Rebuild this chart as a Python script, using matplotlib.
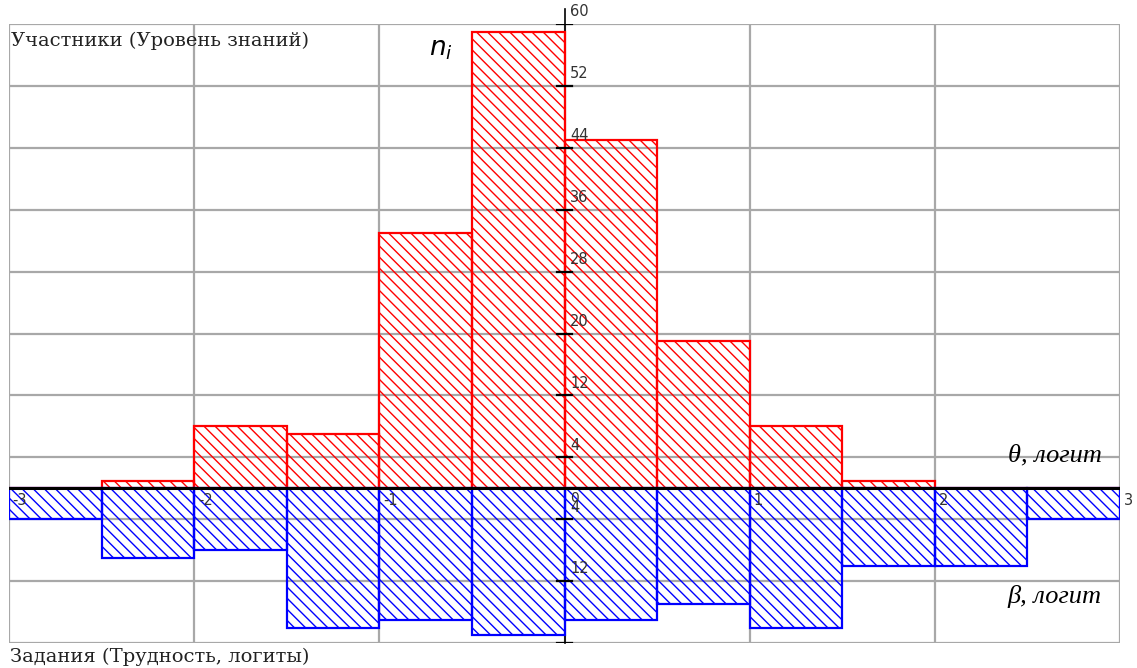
import matplotlib.pyplot as plt
import numpy as np

# bin left edges (logits), bin width 0.5
bins = [-3.0, -2.5, -2.0, -1.5, -1.0, -0.5, 0.0, 0.5, 1.0, 1.5, 2.0, 2.5]
# participants (knowledge level), counts n_i
persons = [0, 1, 8, 7, 33, 59, 45, 19, 8, 1, 0, 0]
# items (difficulty), drawn downward
items = [4, 9, 8, 18, 17, 19, 17, 15, 18, 10, 10, 4]

yticks = [60, 52, 44, 36, 28, 20, 12, 4, -4, -12, -20]
ylabels = ['60', '52', '44', '36', '28', '20', '12', '4', '4', '12', '']
xticks = [-3, -2, -1, 0, 1, 2, 3]

plt.rcParams['hatch.linewidth'] = 1.0
fig = plt.figure(figsize=(11.37, 6.68), dpi=100)
ax = fig.add_axes([9/1137, 25/668, 1111/1137, 619/668])
ax.set_xlim(-3, 3)
ax.set_ylim(-20, 60)

# grid
for yv in yticks:
    ax.axhline(yv, color='#a8a8a8', lw=1.6, zorder=0)
for xv in xticks:
    ax.axvline(xv, color='#a8a8a8', lw=1.6, zorder=0)

ax.bar(bins, persons, width=0.5, align='edge', facecolor='none',
       edgecolor='red', hatch='\\\\\\', lw=1.6, zorder=2)
ax.bar(bins, [-v for v in items], width=0.5, align='edge', facecolor='none',
       edgecolor='blue', hatch='\\\\\\', lw=1.6, zorder=2)

ax.axhline(0, color='black', lw=2.2, zorder=3)
ax.plot([0, 0], [-20, 62], color='black', lw=1.2, zorder=1, clip_on=False)

# y tick marks and labels on the vertical axis
for yv, lab in zip(yticks, ylabels):
    ax.plot([-0.04, 0.04], [yv, yv], color='black', lw=1.6, zorder=4)
    ax.text(0.03, yv + 0.6, lab, fontsize=10.5, color='#333333',
            family='DejaVu Sans', ha='left', va='bottom', zorder=5)
ax.text(0.03, -0.4, '0', fontsize=10, color='#333333', family='DejaVu Sans',
        ha='left', va='top', zorder=5)

for xv in xticks:
    if xv == 0:
        continue
    ax.text(xv + 0.02, -0.6, str(xv), fontsize=10.5, color='#333333',
            family='DejaVu Sans', ha='left', va='top', zorder=5, clip_on=False)

ax.set_xticks([])
ax.set_yticks([])
for s in ax.spines.values():
    s.set_visible(False)

ax.text(-2.99, 59.0, 'Участники (Уровень знаний)', fontsize=14,
        family='DejaVu Serif', color='#222222', ha='left', va='top')
fig.text(10/1137, 1 - 657/668, 'Задания (Трудность, логиты)', fontsize=14,
         family='DejaVu Serif', color='#222222', ha='left', va='center')
ax.text(-0.67, 56.8, r'$n_i$', fontsize=19, ha='center', va='center')
ax.text(2.9, 4.2, 'θ, логит', fontsize=19, style='italic',
        family='Liberation Serif', ha='right', va='center')
ax.text(2.9, -14, 'β, логит', fontsize=19, style='italic',
        family='Liberation Serif', ha='right', va='center')

fig.savefig('out.png', dpi=100)
